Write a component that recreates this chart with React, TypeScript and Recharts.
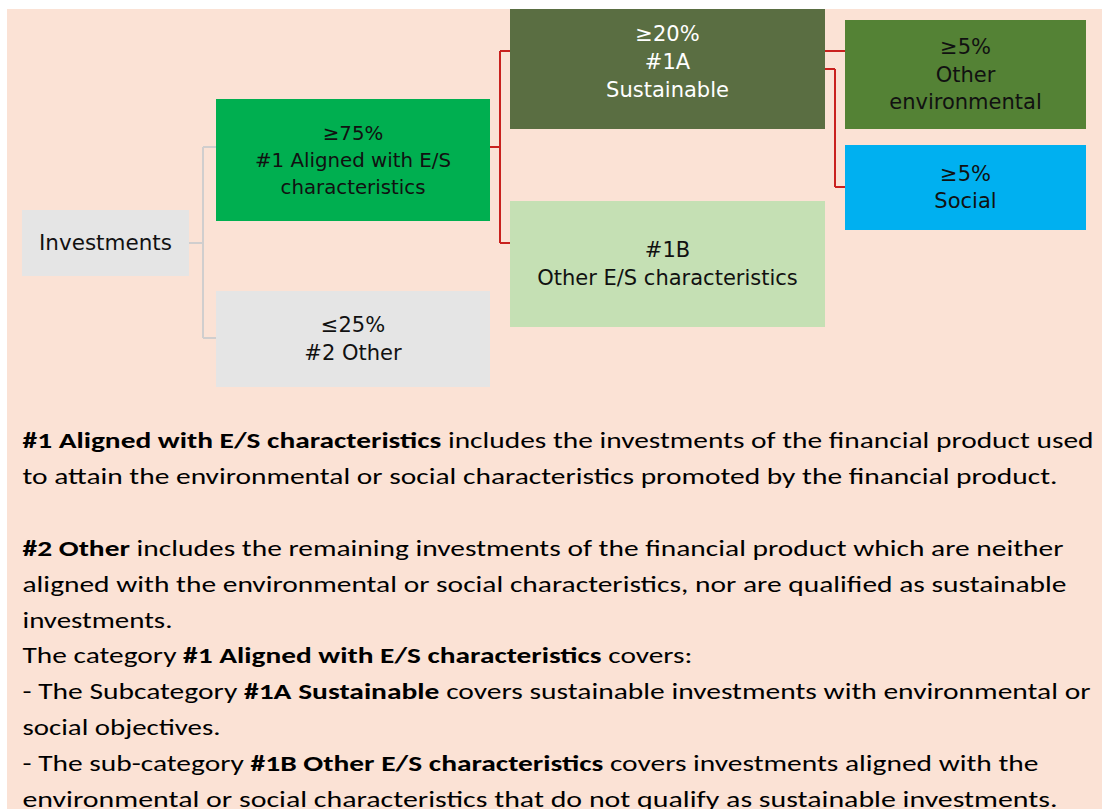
import React from 'react';
import { ScatterChart, Scatter, XAxis, YAxis, ReferenceArea, ReferenceLine } from 'recharts';

// ---- data: tree nodes ----
const nodeIds = ['inv', 'a1', 'o2', 's1a', 'o1b', 'env', 'soc'];
const nodeLines: string[][] = [
  ['Investments'],
  ['≥75%', '#1 Aligned with E/S', 'characteristics'],
  ['≤25%', '#2 Other'],
  ['≥20%', '#1A', 'Sustainable'],
  ['#1B', 'Other E/S characteristics'],
  ['≥5%', 'Other', 'environmental'],
  ['≥5%', 'Social'],
];
const edgeFrom = ['inv', 'inv', 'a1', 'a1', 's1a', 's1a'];
const edgeTo = ['a1', 'o2', 's1a', 'o1b', 'env', 'soc'];

// ---- paragraph text ----
type Seg = [string, boolean];
const paragraphLines: Seg[][] = [
  [['#1 Aligned with E/S characteristics', true], [' includes the investments of the financial product used', false]],
  [['to attain the environmental or social characteristics promoted by the financial product.', false]],
  [],
  [['#2 Other', true], [' includes the remaining investments of the financial product which are neither', false]],
  [['aligned with the environmental or social characteristics, nor are qualified as sustainable', false]],
  [['investments.', false]],
  [['The category ', false], ['#1 Aligned with E/S characteristics', true], [' covers:', false]],
  [['- The Subcategory ', false], ['#1A Sustainable', true], [' covers sustainable investments with environmental or', false]],
  [['social objectives.', false]],
  [['- The sub-category ', false], ['#1B Other E/S characteristics', true], [' covers investments aligned with the', false]],
  [['environmental or social characteristics that do not qualify as sustainable investments.', false]],
];

// ---- layout (diagram units) ----
const boxLayout: Record<string, { x0: number; x1: number; y0: number; y1: number }> = {
  inv: { x0: 22, x1: 189, y0: 210, y1: 276 },
  a1: { x0: 216, x1: 490, y0: 99, y1: 221 },
  o2: { x0: 216, x1: 490, y0: 291, y1: 387 },
  s1a: { x0: 510, x1: 825, y0: -5, y1: 129 },
  o1b: { x0: 510, x1: 825, y0: 201, y1: 327 },
  env: { x0: 845, x1: 1086, y0: 20, y1: 129 },
  soc: { x0: 845, x1: 1086, y0: 145, y1: 230 },
};
const edgeLayout = [
  { y1: 243, y2: 147, ex: 203 },
  { y1: 243, y2: 338, ex: 203 },
  { y1: 147, y2: 51, ex: 500 },
  { y1: 147, y2: 243, ex: 500 },
  { y1: 51, y2: 51, ex: 835 },
  { y1: 69, y2: 187, ex: 835 },
];
const lineWidths = [1071, 1035, 0, 1041, 1044, 150, 670, 1068, 198, 1016, 1035];

// ---- styles ----
const boxFill: Record<string, string> = {
  inv: '#E5E5E5', a1: '#00AF50', o2: '#E5E5E5', s1a: '#5A6E42', o1b: '#C5E0B4', env: '#548235', soc: '#00B0F0',
};
const textFill: Record<string, string> = {
  inv: '#111', a1: '#111', o2: '#111', s1a: '#FFFFFF', o1b: '#111', env: '#111', soc: '#111',
};
const textSize: Record<string, number> = {
  inv: 21.5, a1: 19.8, o2: 21, s1a: 21, o1b: 21, env: 21, soc: 21,
};
const edgeColor = ['#D0CECE', '#D0CECE', '#C9211E', '#C9211E', '#C9211E', '#C9211E'];

const nodeData = nodeIds.map((id, i) => ({
  id,
  lines: nodeLines[i],
  x: (boxLayout[id].x0 + boxLayout[id].x1) / 2,
  y: (boxLayout[id].y0 + boxLayout[id].y1) / 2,
}));

const NodeText = (props: any) => {
  const { cx, cy, payload } = props;
  const lines: string[] = payload.lines;
  const id = payload.id;
  const pitch = id === 'a1' ? 27 : 27.6;
  const n = lines.length;
  return (
    <text
      textAnchor="middle"
      fill={textFill[id]}
      fontFamily="'DejaVu Sans', Verdana, sans-serif"
      fontSize={textSize[id]}
    >
      {lines.map((l, i) => (
        <tspan key={i} x={cx} y={cy + 7 + (i - (n - 1) / 2) * pitch}>
          {l}
        </tspan>
      ))}
    </text>
  );
};

export default function App() {
  const segments: { pts: { x: number; y: number }[]; color: string }[] = [];
  edgeFrom.forEach((f, i) => {
    const p = boxLayout[f];
    const c = boxLayout[edgeTo[i]];
    const e = edgeLayout[i];
    const color = edgeColor[i];
    segments.push({ pts: [{ x: p.x1, y: e.y1 }, { x: e.ex, y: e.y1 }], color });
    if (e.y1 !== e.y2) segments.push({ pts: [{ x: e.ex, y: e.y1 }, { x: e.ex, y: e.y2 }], color });
    segments.push({ pts: [{ x: e.ex, y: e.y2 }, { x: c.x0, y: e.y2 }], color });
  });

  const baseY = 448;
  const pitch = 35.9;

  return (
    <div style={{ position: 'absolute', left: 0, top: 0, width: 1102, height: 809, background: '#FFFFFF', overflow: 'hidden' }}>
      <div style={{ position: 'absolute', left: 7, top: 9, right: 0, bottom: 0, background: '#FBE2D5' }} />
      <div style={{ position: 'absolute', left: 0, top: 9 }}>
        <ScatterChart width={1102} height={400} margin={{ top: 0, right: 0, bottom: 0, left: 0 }}>
          <XAxis type="number" dataKey="x" domain={[0, 1102]} hide allowDataOverflow />
          <YAxis type="number" dataKey="y" domain={[9, 409]} reversed hide allowDataOverflow />
          {segments.map((s, i) => (
            <ReferenceLine
              key={'l' + i}
              segment={s.pts}
              stroke={s.color}
              strokeWidth={2}
              ifOverflow="visible"
            />
          ))}
          {nodeIds.map((id) => (
            <ReferenceArea
              key={id}
              x1={boxLayout[id].x0}
              x2={boxLayout[id].x1}
              y1={boxLayout[id].y0}
              y2={boxLayout[id].y1}
              fill={boxFill[id]}
              fillOpacity={1}
              stroke="none"
              ifOverflow="hidden"
            />
          ))}
          <Scatter data={nodeData} isAnimationActive={false} shape={NodeText} />
        </ScatterChart>
      </div>
      <svg width={1102} height={809} style={{ position: 'absolute', left: 0, top: 0, pointerEvents: 'none' }}>
        {paragraphLines.map((segs, i) =>
          segs.length === 0 ? null : (
            <text
              key={i}
              x={22.5}
              y={baseY + i * pitch}
              fontFamily="Carlito, Lato, sans-serif"
              fontSize={22}
              fill="#000"
              textLength={lineWidths[i]}
              lengthAdjust="spacingAndGlyphs"
            >
              {segs.map(([t, b], j) => (
                <tspan key={j} fontWeight={b ? 700 : 400}>
                  {t}
                </tspan>
              ))}
            </text>
          )
        )}
      </svg>
    </div>
  );
}
